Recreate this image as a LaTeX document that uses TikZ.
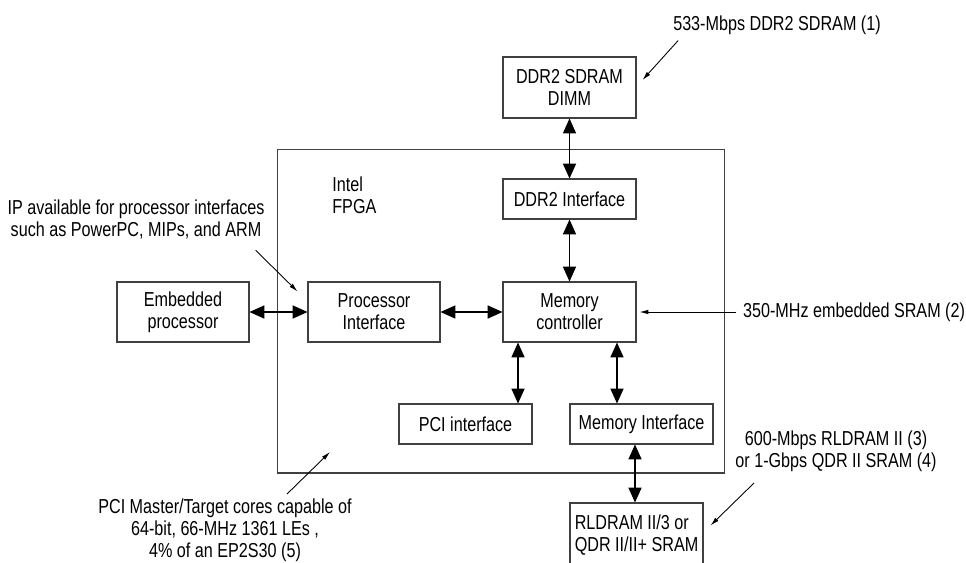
\documentclass[tikz,border=0pt]{standalone}
\usepackage{fontspec}
\setmainfont{Liberation Sans}[FakeStretch=0.8]
\usetikzlibrary{arrows.meta}

\begin{document}
\begin{tikzpicture}[
      x=0.02cm, y=-0.02cm,
      font=\fontsize{11.5}{12.5}\selectfont,
      bloc/.style={
        draw=black!75,
        line width=0.6pt,
        inner sep=2pt,
        minimum width=2.66cm,
        minimum height=1.2cm,
        align=center
      },
      note/.style={inner sep=1pt, align=center},
      lien/.style={line width=0.6pt, {Triangle[length=8.5pt,width=7.5pt]}-{Triangle[length=8.5pt,width=7.5pt]}},
      wijs/.style={line width=0.5pt, -{Latex[length=5pt,width=2.6pt]}}
    ]
      \useasboundingbox (0,0) rectangle (966,562);

      \node (fpga) at (501,311) [bloc,minimum width=8.96cm,minimum height=6.48cm]{};
      \node (intel) at (332,195) [anchor=west,align=left,inner sep=0pt]{Intel\\FPGA};
      \node (dimm) at (569.5,87.5) [bloc,minimum height=1.22cm]{DDR2 SDRAM\\DIMM};
      \node (ddrif) at (569.5,199) [bloc,minimum height=0.8cm]{DDR2 Interface};
      \node (emb) at (183,312) [bloc,minimum width=2.64cm]{Embedded\\processor};
      \node (procif) at (374,312) [bloc,minimum width=2.64cm]{Processor\\Interface};
      \node (memctrl) at (569.5,312) [bloc]{Memory\\controller};
      \node (pci) at (465.5,424) [bloc,minimum height=0.8cm]{PCI interface};
      \node (memif) at (641.5,424) [bloc,minimum width=2.86cm,minimum height=0.8cm]{Memory Interface};
      \node (rld) at (636.5,535) [bloc,minimum height=1.28cm,align=left]{RLDRAM II/3 or\\QDR II/II+ SRAM};

      \node (n533) at (777,25) [note]{533-Mbps DDR2 SDRAM (1)};
      \node (n350) at (741,312) [note,anchor=west]{350-MHz embedded SRAM (2)};
      \node (nip) at (136,219) [note]{IP available for processor interfaces\\such as PowerPC, MIPs, and ARM};
      \node (npci) at (225,530) [note]{PCI Master/Target cores capable of\\64-bit, 66-MHz 1361 LEs ,\\4\% of an EP2S30 (5)};
      \node (nrld) at (836,451) [note]{600-Mbps RLDRAM II (3)\\or 1-Gbps QDR II SRAM (4)};
      \coordinate (pcitip) at (330,452);

      \draw[lien] (dimm) -- (ddrif);
      \draw[lien] (ddrif) -- (memctrl);
      \draw[lien] (emb) -- (procif);
      \draw[lien] (procif) -- (memctrl);
      \draw[lien] ([xshift=-1.03cm]memctrl.south) coordinate (m1) -- (m1 |- pci.north);
      \draw[lien] ([xshift=0.95cm]memctrl.south) coordinate (m2) -- (m2 |- memif.north);
      \draw[lien] ([xshift=-0.13cm]memif.south) coordinate (m3) -- (m3 |- rld.north);

      \draw[wijs] ([shift={(0.14cm,-0.08cm)}]n533.south west) -- ([shift={(0.12cm,0.15cm)}]dimm.east);
      \draw[wijs] ([xshift=-0.1cm]n350.west) -- ([xshift=0.06cm]memctrl.east);
      \draw[wijs] ([shift={(-0.22cm,-0.19cm)}]nip.south east) -- ([shift={(-0.2cm,-0.2cm)}]procif.north west);
      \draw[wijs] ([shift={(1.24cm,0.05cm)}]npci.north) -- (pcitip);
      \draw[wijs] ([shift={(-1.64cm,-0.19cm)}]nrld.south) -- ([shift={(0.14cm,-0.46cm)}]rld.north east);

    \end{tikzpicture}
\end{document}
